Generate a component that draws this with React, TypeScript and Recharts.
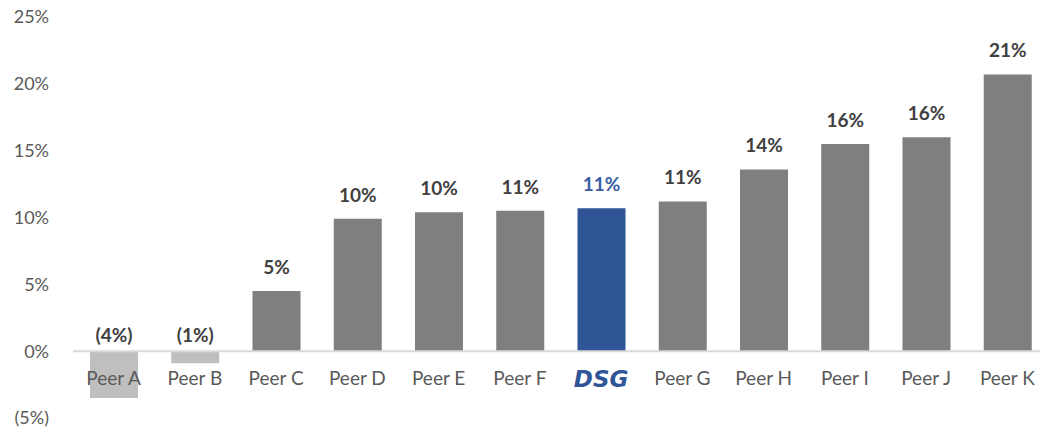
import { Bar, BarChart, Cell, LabelList, ReferenceLine, XAxis, YAxis } from "recharts";

const categories = ["Peer A", "Peer B", "Peer C", "Peer D", "Peer E", "Peer F", "DSG", "Peer G", "Peer H", "Peer I", "Peer J", "Peer K"];
const values = [-3.5, -0.9, 4.5, 9.9, 10.4, 10.5, 10.7, 11.2, 13.6, 15.5, 16.0, 20.7];
const yTicks = [-5, 0, 5, 10, 15, 20, 25];

const data = categories.map((name, i) => ({ name, value: values[i] }));

const GRAY = "#7f7f7f";
const LIGHT = "#bfbfbf";
const BLUE = "#2f5597";
const FONT = "Lato, 'Open Sans', sans-serif";

const fmt = (v: number) => (v < 0 ? `(${Math.abs(v).toFixed(0)}%)` : `${v.toFixed(0)}%`);

function barColor(name: string, v: number) {
	if (name === "DSG") return BLUE;
	return v < 0 ? LIGHT : GRAY;
}

// x labels sit just under the zero line, not at the plot bottom
const ZERO_OFFSET = 67;

function CatTick(props: any) {
	const { x, y, payload } = props;
	const isDsg = payload.value === "DSG";
	return (
		<text
			x={x}
			y={y - ZERO_OFFSET + 29}
			textAnchor="middle"
			dominantBaseline="middle"
			fontFamily={isDsg ? "'DejaVu Sans', sans-serif" : FONT}
			fontSize={isDsg ? 23 : 19}
			fontWeight={isDsg ? 900 : 400}
			fontStyle={isDsg ? "italic" : "normal"}
			fill={isDsg ? BLUE : "#595959"}
		>
			{payload.value}
		</text>
	);
}

function ValueLabel(props: any) {
	const { x, y, width, height, value, index } = props;
	const top = Math.min(y, y + height);
	const isDsg = categories[index] === "DSG";
	const cy = value < 0 ? top - 14 : top - 22;
	return (
		<text
			x={x + width / 2}
			y={cy}
			textAnchor="middle"
			dominantBaseline="middle"
			fontFamily={FONT}
			fontSize={19}
			fontWeight={700}
			fill={isDsg ? "#3a5ea6" : "#404040"}
		>
			{fmt(value)}
		</text>
	);
}

export default function App() {
	return (
		<div style={{ position: "absolute", left: 0, top: 0, width: 1040, height: 431, overflow: "hidden", background: "#fff" }}>
			<BarChart
				width={1050}
				height={431}
				data={data}
				margin={{ top: 17, right: 2, bottom: 0, left: 0 }}
				barSize={48}
			>
				<YAxis
					domain={[-5, 25]}
					ticks={yTicks}
					width={73}
					axisLine={false}
					tickLine={false}
					tickSize={0}
					tickMargin={24}
					tickFormatter={fmt}
					tick={{ fill: "#595959", fontSize: 18, fontFamily: FONT }}
				/>
				<XAxis
					dataKey="name"
					axisLine={false}
					tickLine={false}
					tickSize={0}
					tickMargin={0}
					height={13}
					tick={<CatTick />}
					interval={0}
				/>
				<ReferenceLine y={0} stroke="#d9d9d9" strokeWidth={2} />
				<Bar dataKey="value" isAnimationActive={false}>
					{data.map((d) => (
						<Cell key={d.name} fill={barColor(d.name, d.value)} />
					))}
					<LabelList dataKey="value" content={<ValueLabel />} />
				</Bar>
			</BarChart>
		</div>
	);
}
